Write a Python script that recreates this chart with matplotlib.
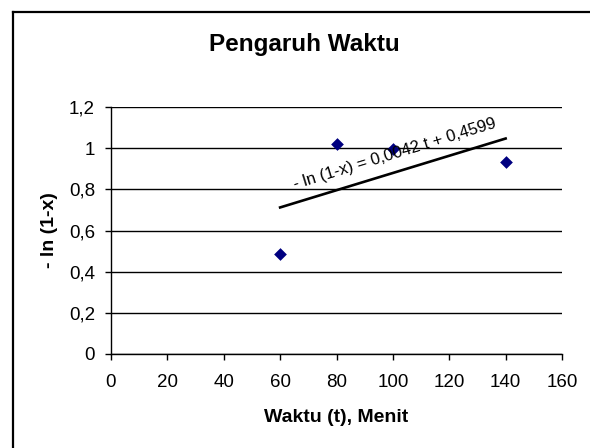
import numpy as np
import matplotlib.pyplot as plt
from matplotlib.lines import Line2D
from matplotlib.ticker import FuncFormatter

# data
waktu = [60, 80, 100, 140]
ln_val = [0.484, 1.022, 0.996, 0.932]
x_ticks = [0, 20, 40, 60, 80, 100, 120, 140, 160]
y_ticks = [0, 0.2, 0.4, 0.6, 0.8, 1.0, 1.2]

plt.rcParams['font.family'] = ['Liberation Sans', 'DejaVu Sans']

fig = plt.figure(figsize=(5.9, 4.48), dpi=100)
ax = fig.add_axes([111 / 590, 1 - 354 / 448, 451 / 590, 247 / 448])

# chart frame (only top and left edge are visible in the crop)
fig.add_artist(Line2D([12.5 / 590, 1.0], [1 - 12 / 448] * 2, color='black', lw=1.6))
fig.add_artist(Line2D([12.5 / 590] * 2, [0, 1 - 12 / 448], color='black', lw=1.6))

ax.scatter(waktu, ln_val, marker='D', s=42, color='#000080', zorder=3, linewidths=0)

# linear trendline
slope, intercept = np.polyfit(waktu, ln_val, 1)
tx = np.array([min(waktu), max(waktu)])
ax.plot(tx, slope * tx + intercept, color='black', lw=1.9, zorder=2)
ax.text(100.8, 0.972, '- ln (1-x) = 0,0042 t + 0,4599', rotation=17,
        ha='center', va='center', fontsize=12, rotation_mode='anchor')

ax.set_xlim(0, 160)
ax.set_ylim(0, 1.2)
ax.set_xticks(x_ticks)
ax.set_yticks(y_ticks)
ax.yaxis.set_major_formatter(FuncFormatter(lambda v, p: ('%g' % round(v, 1)).replace('.', ',')))
ax.grid(axis='y', color='black', lw=1.0)
ax.set_axisbelow(True)
for s in ['top', 'right']:
    ax.spines[s].set_visible(False)
for s in ['left', 'bottom']:
    ax.spines[s].set_linewidth(1.0)
ax.tick_params(axis='both', direction='out', length=4.5, width=1.0, labelsize=13.5)
ax.tick_params(axis='x', pad=10)
ax.tick_params(axis='y', pad=7)

ax.set_xlabel('Waktu (t), Menit', fontsize=14, fontweight='bold', labelpad=13)
ax.set_ylabel('- ln (1-x)', fontsize=14, fontweight='bold', labelpad=8)
fig.text(304 / 590, 1 - 45 / 448, 'Pengaruh Waktu', fontsize=17.5, fontweight='bold',
         ha='center', va='center')

fig.savefig('out.png', dpi=100)
